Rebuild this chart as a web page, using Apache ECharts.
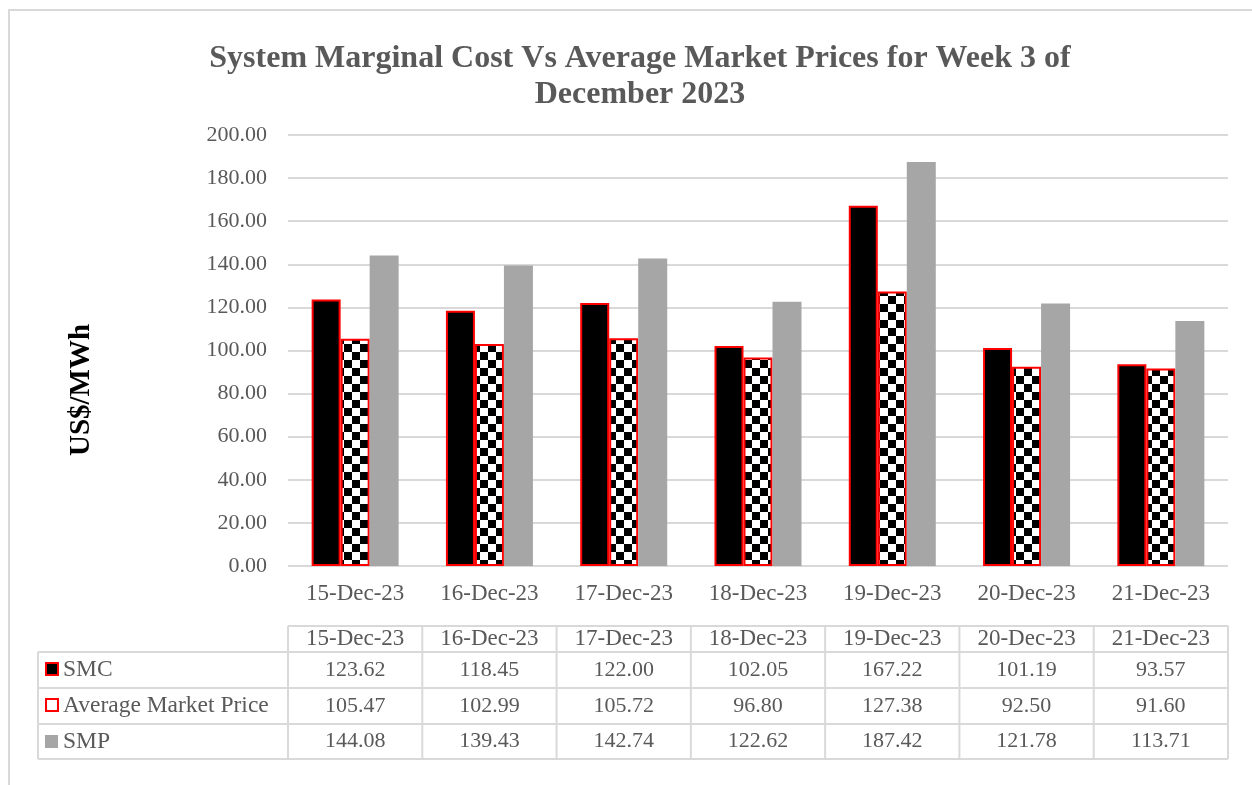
<!DOCTYPE html>
<html>
<head>
<meta charset="utf-8">
<script src="https://cdn.jsdelivr.net/npm/echarts@6/dist/echarts.min.js"></script>
<style>
  html, body { margin: 0; padding: 0; background: #fff; }
  #chart { width: 1252px; height: 785px; }
</style>
</head>
<body>
<div id="chart"></div>
<script>
const categories = ['15-Dec-23', '16-Dec-23', '17-Dec-23', '18-Dec-23', '19-Dec-23', '20-Dec-23', '21-Dec-23'];
const smc = [123.62, 118.45, 122.00, 102.05, 167.22, 101.19, 93.57];
const avgMarketPrice = [105.47, 102.99, 105.72, 96.80, 127.38, 92.50, 91.60];
const smp = [144.08, 139.43, 142.74, 122.62, 187.42, 121.78, 113.71];
const seriesNames = ['SMC', 'Average Market Price', 'SMP'];
const yTicks = { min: 0, max: 200, interval: 20 };

const FONT = '"Liberation Serif", "DejaVu Serif", serif';
const TXT = '#595959';
const LINE = '#d9d9d9';

// checkered fill
function checker(size) {
  const c = document.createElement('canvas');
  c.width = size * 2; c.height = size * 2;
  const g = c.getContext('2d');
  g.fillStyle = '#fff'; g.fillRect(0, 0, size * 2, size * 2);
  g.fillStyle = '#000';
  g.fillRect(0, 0, size, size);
  g.fillRect(size, size, size, size);
  return c;
}
const checkFill = { image: checker(8), repeat: 'repeat' };

const gridL = 288, gridR = 24, gridT = 135, gridB = 219;
const plotW = 1252 - gridL - gridR;
const colW = plotW / categories.length;

// data table below the chart
const tblLeft = 38, hdrTop = 626, rowTops = [652, 688, 724, 759];
const graphic = [];
graphic.push({ type: 'rect', shape: { x: 9, y: 10, width: 1300, height: 900 },
  style: { fill: 'none', stroke: LINE, lineWidth: 2 }, silent: true });
function hline(x1, x2, y) {
  graphic.push({ type: 'line', shape: { x1, y1: y, x2, y2: y }, style: { stroke: LINE, lineWidth: 2 } });
}
function vline(x, y1, y2) {
  graphic.push({ type: 'line', shape: { x1: x, y1, x2: x, y2 }, style: { stroke: LINE, lineWidth: 2 } });
}
hline(gridL, gridL + plotW, hdrTop);
rowTops.forEach(y => hline(tblLeft, gridL + plotW, y));
vline(tblLeft, rowTops[0], rowTops[3]);
for (let i = 0; i <= categories.length; i++) vline(gridL + i * colW, hdrTop, rowTops[3]);

categories.forEach((c, i) => {
  graphic.push({ type: 'text', x: gridL + (i + 0.5) * colW, y: (hdrTop + rowTops[0]) / 2,
    style: { text: c, font: '23px ' + FONT, fill: TXT, align: 'center', verticalAlign: 'middle' } });
});
const rows = [smc, avgMarketPrice, smp];
rows.forEach((vals, r) => {
  const cy = (rowTops[r] + rowTops[r + 1]) / 2;
  vals.forEach((v, i) => {
    graphic.push({ type: 'text', x: gridL + (i + 0.5) * colW, y: cy,
      style: { text: v.toFixed(2), font: '22px ' + FONT, fill: TXT, align: 'center', verticalAlign: 'middle' } });
  });
  graphic.push({ type: 'text', x: 63, y: cy,
    style: { text: seriesNames[r], font: '23.5px ' + FONT, fill: TXT, align: 'left', verticalAlign: 'middle' } });
});
// legend keys
graphic.push({ type: 'rect', shape: { x: 46, y: 663, width: 12, height: 12 }, style: { fill: '#000', stroke: '#ff0000', lineWidth: 2 } });
graphic.push({ type: 'rect', shape: { x: 46, y: 699, width: 12, height: 12 }, style: { fill: '#fff', stroke: '#ff0000', lineWidth: 2 } });
graphic.push({ type: 'rect', shape: { x: 45, y: 735, width: 13, height: 13 }, style: { fill: '#a6a6a6' } });
// y axis title
graphic.push({ type: 'text', x: 82, y: 390, rotation: Math.PI / 2,
  style: { text: 'US$/MWh', font: 'bold 29px ' + FONT, fill: '#000', align: 'center', verticalAlign: 'middle' } });

const chart = echarts.init(document.getElementById('chart'));
chart.setOption({
  animation: false,
  title: {
    text: 'System Marginal Cost Vs Average Market Prices for Week 3 of\nDecember 2023',
    left: 635, top: 36, textAlign: 'center',
    textStyle: { fontFamily: FONT, fontSize: 32, fontWeight: 'bold', color: TXT, lineHeight: 36 }
  },
  grid: { left: gridL, right: gridR, top: gridT, bottom: gridB },
  xAxis: {
    type: 'category', data: categories,
    axisLine: { show: false }, axisTick: { show: false },
    axisLabel: { margin: 16, fontFamily: FONT, fontSize: 23, color: TXT }
  },
  yAxis: {
    type: 'value', min: yTicks.min, max: yTicks.max, interval: yTicks.interval,
    axisLine: { show: false }, axisTick: { show: false },
    splitLine: { lineStyle: { color: LINE, width: 2 } },
    axisLabel: { margin: 21, fontFamily: FONT, fontSize: 22, color: TXT, formatter: v => v.toFixed(2) }
  },
  graphic,
  series: [
    { name: seriesNames[0], type: 'bar', data: smc, barWidth: 29, barGap: '0%',
      itemStyle: { color: '#000', borderColor: '#ff0000', borderWidth: 2 } },
    { name: seriesNames[1], type: 'bar', data: avgMarketPrice, barWidth: 29,
      itemStyle: { color: checkFill, borderColor: '#ff0000', borderWidth: 2 } },
    { name: seriesNames[2], type: 'bar', data: smp, barWidth: 29,
      itemStyle: { color: '#a6a6a6' } }
  ]
});
</script>
</body>
</html>
